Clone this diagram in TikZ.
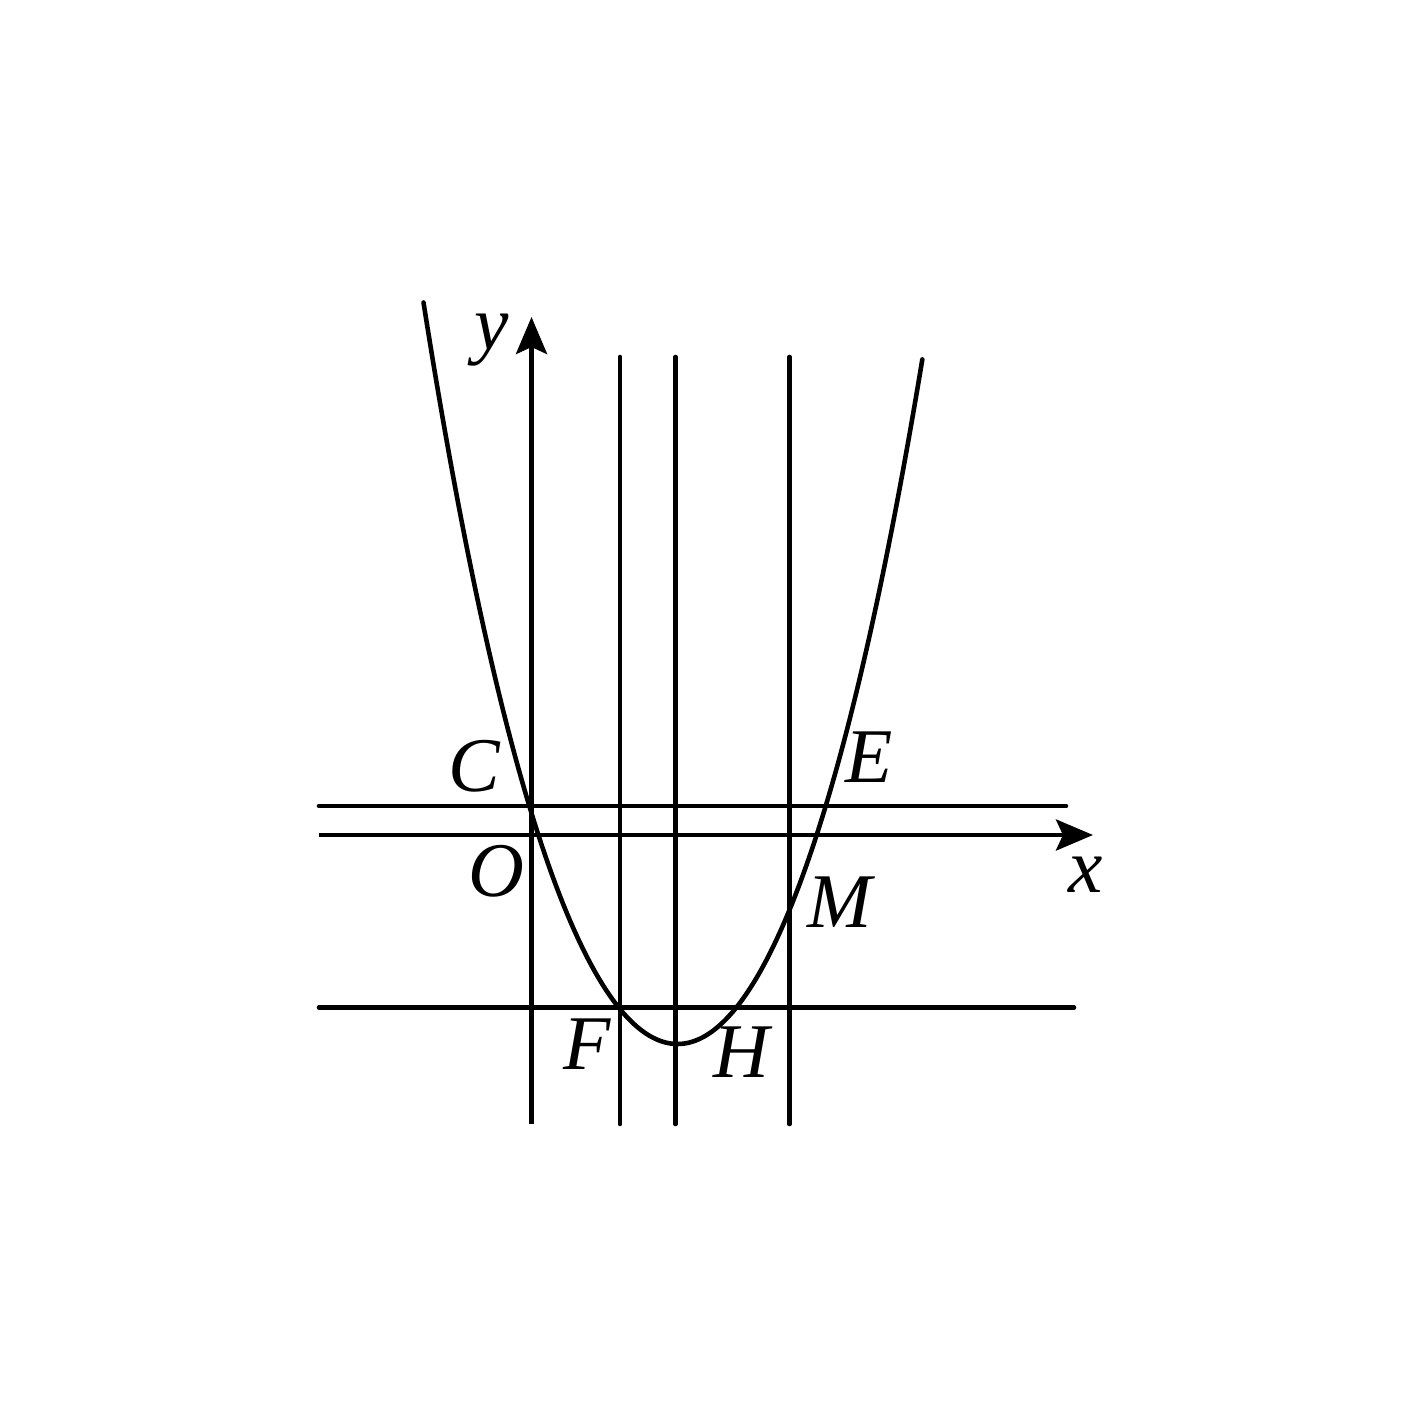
\documentclass[tikz,border=0pt]{standalone}
\usepackage{fontspec}
\setmainfont{Liberation Serif}
\usetikzlibrary{arrows.meta}
\begin{document}
\begin{tikzpicture}[x=0.01cm,y=-0.01cm,
  ln/.style={line width=1.3pt,line cap=round},
  ax/.style={line width=1.3pt,-{Stealth[length=0.37cm,width=0.31cm,inset=0.07cm]}},
  lab/.style={anchor=base,inner sep=0pt,font=\fontsize{22}{26}\selectfont\itshape}]
\useasboundingbox (0,0) rectangle (1422,1422);
% axes
\coordinate (xs) at (319,835);
\coordinate (xe) at (1093,835);
\coordinate (ys) at (531.5,1124);
\coordinate (ye) at (531.5,317);
\draw[ax] (xs) -- (xe);
\draw[ax] (ys) -- (ye);
% horizontal lines
\coordinate (u1) at (319,806);
\coordinate (u2) at (1066,806);
\coordinate (l1) at (319,1007.5);
\coordinate (l2) at (1074,1007.5);
\draw[ln] (u1) -- (u2);
\draw[ln] (l1) -- (l2);
% vertical lines
\coordinate (v1a) at (620,357);
\coordinate (v1b) at (620,1124);
\coordinate (v2a) at (675.5,357);
\coordinate (v2b) at (675.5,1124);
\coordinate (v3a) at (789.5,357);
\coordinate (v3b) at (789.5,1124);
\draw[ln] (v1a) -- (v1b);
\draw[ln] (v2a) -- (v2b);
\draw[ln] (v3a) -- (v3b);
% parabola
\draw[ln,line join=round] plot[domain=-2.54:2.45,samples=160,smooth]
  ({677.5+100*\x},{1044-105*\x*\x-1.54*\x*\x*\x*\x});
% labels
\node[lab] (C) at (474,791) {C};
\node[lab] (O) at (496,896) {O};
\node[lab] (F) at (587,1069) {F};
\node[lab] (H) at (741,1077) {H};
\node[lab] (E) at (869,782) {E};
\node[lab] (M) at (840,927) {M};
\node[lab] (x) at (1086,892) {x};
\node[lab] (y) at (492,350) {y};
\end{tikzpicture}
\end{document}
